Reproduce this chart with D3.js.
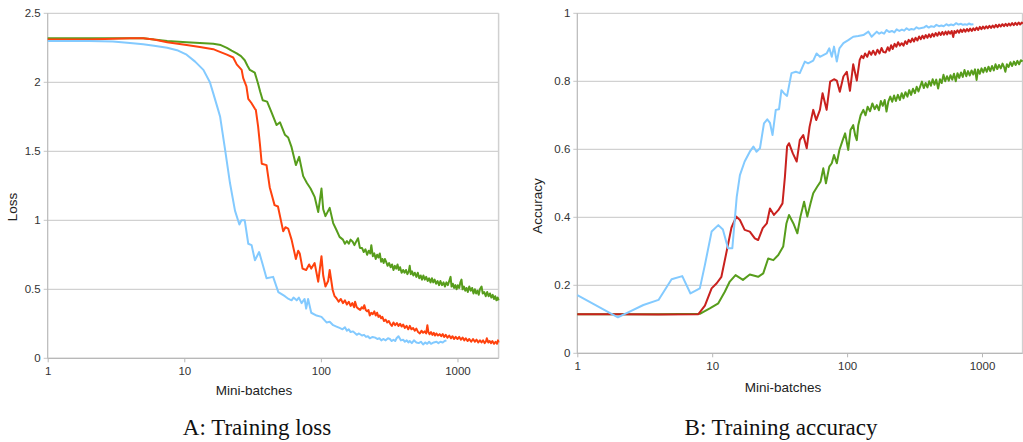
<!DOCTYPE html>
<html>
<head>
<meta charset="utf-8">
<script src="https://cdn.jsdelivr.net/npm/d3@7"></script>
<style>
  body { margin: 0; background: #fff; }
  .tick text { font-family: "Liberation Sans", Arial, sans-serif; font-size: 11.5px; fill: #333; }
  .axislabel { font-family: "Liberation Sans", Arial, sans-serif; font-size: 13.5px; fill: #222; }
  .caption { font-family: "Liberation Serif", "Times New Roman", serif; font-size: 23px; fill: #111; }
</style>
</head>
<body>
<div id="chart"></div>
<script>
// x ticks shared by both panels
var batchTicks = [1, 10, 100, 1000];
var lossTicks = [0, 0.5, 1, 1.5, 2, 2.5];
var accTicks = [0, 0.2, 0.4, 0.6, 0.8, 1];

// training loss, [mini-batch, loss]
var lossBlue = [[1,2.30],[2,2.30],[3,2.295],[4,2.285],[5,2.275],[6,2.265],[7.5,2.25],[9,2.23],[10.4,2.20],[12,2.15],[13.8,2.09],[15.4,2.00],[16.3,1.92],[17.7,1.80],[18.3,1.75],[19.9,1.51],[21.6,1.27],[23.5,1.07],[25.3,0.97],[26.2,1.00],[27.7,1.00],[29.4,0.83],[31.1,0.82],[32.9,0.71],[35.3,0.77],[37.5,0.68],[40,0.58],[44.7,0.59],[48.8,0.48],[54.5,0.45],[58,0.43],[61,0.42],[63,0.44],[66.5,0.42],[69,0.44],[72.2,0.40],[76,0.43],[78,0.36],[80.6,0.43],[85,0.33],[93,0.31],[101,0.30],[110,0.26],[116,0.265],[123,0.24],[130,0.23],[137,0.22],[144,0.21],[150,0.225],[155,0.20],[160,0.21],[165,0.19],[172,0.195],[183,0.17],[190,0.18],[200,0.165],[207,0.17],[214,0.155],[221,0.16],[228,0.145],[239,0.155],[250,0.15],[259,0.14],[268,0.145],[277,0.13],[286,0.14],[298,0.13],[310,0.145],[320,0.14],[330,0.125],[340,0.135],[350,0.125],[358,0.145],[370,0.16],[385,0.13],[400,0.135],[412,0.12],[425,0.13],[437,0.115],[447,0.125],[463,0.11],[480,0.13],[500,0.115],[520,0.11],[540,0.12],[560,0.10],[580,0.115],[600,0.105],[620,0.12],[640,0.105],[670,0.115],[702,0.12],[725,0.11],[750,0.12],[780,0.115],[805,0.125],[830,0.13]];
var lossOrange = [[1,2.31],[2,2.31],[3,2.315],[4,2.32],[5,2.32],[6,2.31],[7.5,2.29],[10.4,2.27],[13,2.255],[16.3,2.24],[17.3,2.23],[20.5,2.20],[22.8,2.18],[24.2,2.13],[26.3,2.09],[27,2.03],[28.5,1.97],[29.4,1.88],[31,1.85],[32.8,1.81],[33.4,1.80],[34.7,1.68],[35.8,1.55],[36.9,1.41],[40,1.40],[42.2,1.24],[45.8,1.11],[48.5,1.10],[53,0.92],[55,0.95],[57.6,0.94],[61,0.86],[65.6,0.72],[68.2,0.78],[70,0.76],[73.4,0.65],[78,0.64],[82,0.68],[85,0.65],[90,0.69],[95.6,0.555],[101,0.74],[104,0.60],[108,0.52],[113,0.56],[116,0.64],[122,0.495],[126,0.45],[130,0.435],[135,0.41],[140,0.43],[145,0.40],[150,0.42],[155,0.39],[160,0.41],[165,0.38],[170,0.40],[175,0.37],[178,0.41],[183,0.37],[188,0.36],[194,0.35],[199,0.37],[204,0.36],[208,0.385],[213,0.35],[218,0.34],[223,0.35],[228,0.31],[234,0.33],[240,0.32],[246,0.34],[252,0.31],[258,0.33],[264,0.30],[270,0.31],[276,0.29],[282,0.30],[290,0.27],[298,0.28],[306,0.26],[314,0.27],[322,0.25],[331,0.235],[340,0.26],[350,0.24],[360,0.255],[370,0.235],[380,0.25],[390,0.23],[400,0.245],[412,0.22],[424,0.235],[436,0.21],[448,0.235],[460,0.21],[473,0.22],[487,0.20],[500,0.215],[515,0.19],[530,0.18],[545,0.20],[560,0.185],[575,0.195],[590,0.18],[602,0.24],[612,0.19],[625,0.175],[640,0.19],[655,0.17],[670,0.185],[685,0.165],[700,0.18],[720,0.165],[740,0.175],[760,0.16],[780,0.175],[800,0.155],[820,0.17],[845,0.15],[870,0.165],[895,0.145],[920,0.16],[945,0.14],[970,0.155],[1000,0.14],[1030,0.155],[1060,0.135],[1090,0.15],[1120,0.13],[1150,0.145],[1185,0.125],[1220,0.14],[1260,0.12],[1300,0.14],[1340,0.12],[1380,0.135],[1420,0.115],[1460,0.13],[1500,0.115],[1540,0.13],[1580,0.11],[1620,0.125],[1640,0.145],[1680,0.115],[1720,0.125],[1760,0.11],[1800,0.125],[1850,0.105],[1900,0.12],[1950,0.105],[1980,0.13],[2000,0.115]];
var lossGreen = [[1,2.32],[2,2.32],[3,2.32],[4,2.32],[5,2.32],[6,2.31],[7.5,2.30],[10.4,2.29],[13,2.285],[16.3,2.28],[18.5,2.27],[20.5,2.25],[22.2,2.23],[24.2,2.21],[26,2.19],[27.7,2.16],[29,2.12],[30.2,2.09],[32.8,2.07],[34.7,1.99],[36,1.93],[37.5,1.87],[40.4,1.86],[43.6,1.78],[47.4,1.69],[50.2,1.71],[54.5,1.62],[57.6,1.60],[61,1.53],[65.6,1.40],[69.3,1.46],[74.2,1.32],[79,1.27],[84,1.23],[87,1.20],[90,1.17],[95.6,1.06],[101,1.23],[104,1.08],[108,1.03],[116,1.09],[123,0.98],[130,0.93],[137,0.88],[145,0.86],[150,0.83],[155,0.85],[160,0.83],[165,0.86],[171,0.845],[176,0.82],[180,0.84],[187,0.87],[193,0.80],[200,0.80],[206,0.77],[212,0.79],[218,0.75],[224,0.78],[230,0.76],[234,0.82],[240,0.74],[246,0.76],[252,0.72],[258,0.75],[264,0.73],[270,0.76],[276,0.70],[282,0.72],[288,0.69],[294,0.72],[300,0.70],[308,0.67],[316,0.69],[324,0.66],[332,0.68],[340,0.64],[348,0.67],[356,0.65],[364,0.68],[372,0.64],[380,0.66],[390,0.62],[400,0.64],[410,0.62],[420,0.64],[430,0.61],[440,0.63],[447,0.67],[455,0.61],[465,0.63],[475,0.60],[487,0.62],[500,0.59],[512,0.62],[525,0.58],[538,0.60],[550,0.57],[563,0.60],[577,0.57],[590,0.59],[605,0.56],[620,0.58],[635,0.55],[650,0.58],[665,0.55],[680,0.57],[697,0.54],[715,0.56],[733,0.53],[750,0.56],[770,0.53],[790,0.55],[810,0.52],[830,0.55],[850,0.53],[870,0.56],[890,0.59],[905,0.52],[925,0.54],[945,0.51],[965,0.53],[985,0.50],[1005,0.53],[1030,0.51],[1050,0.55],[1070,0.57],[1090,0.50],[1115,0.52],[1140,0.49],[1165,0.51],[1190,0.48],[1220,0.52],[1250,0.49],[1280,0.51],[1310,0.47],[1340,0.50],[1370,0.47],[1400,0.49],[1430,0.46],[1460,0.50],[1500,0.52],[1530,0.47],[1570,0.48],[1610,0.45],[1650,0.48],[1690,0.45],[1730,0.47],[1770,0.44],[1810,0.46],[1850,0.43],[1890,0.45],[1930,0.42],[1970,0.44],[2000,0.42]];

// training accuracy, [mini-batch, accuracy]
var accBlue = [[1,0.171],[2,0.106],[2.32,0.118],[3.09,0.142],[4,0.157],[5,0.218],[6,0.227],[6.9,0.176],[8.1,0.191],[8.83,0.26],[9.9,0.358],[11.1,0.377],[12,0.364],[13.1,0.309],[14.1,0.309],[15.2,0.46],[16.05,0.524],[17.4,0.564],[19,0.593],[20.2,0.608],[21.3,0.593],[22.6,0.603],[24.2,0.676],[25.6,0.688],[26.8,0.678],[28,0.642],[29.6,0.716],[31.3,0.718],[32.6,0.774],[34,0.765],[35.9,0.757],[38.7,0.824],[41.7,0.828],[44.6,0.824],[48.6,0.858],[51.4,0.853],[56.1,0.861],[59.4,0.882],[62.9,0.872],[66.6,0.877],[70.5,0.882],[73.8,0.897],[77,0.872],[80,0.902],[83.9,0.858],[87.7,0.897],[93.9,0.912],[102,0.921],[111,0.931],[121,0.933],[132,0.936],[144,0.946],[152,0.931],[166,0.946],[173,0.94],[180,0.944],[188,0.94],[196,0.951],[205,0.945],[215,0.948],[224,0.944],[233,0.953],[244,0.948],[255,0.952],[265,0.949],[276,0.956],[288,0.951],[300,0.954],[313,0.952],[327,0.959],[340,0.955],[355,0.957],[370,0.958],[387,0.963],[403,0.958],[420,0.962],[440,0.96],[459,0.966],[480,0.962],[500,0.964],[520,0.962],[544,0.968],[566,0.964],[590,0.967],[615,0.965],[644,0.971],[670,0.967],[700,0.969],[722,0.966],[747,0.968],[775,0.966],[800,0.970],[830,0.967],[864,0.968]];
var accRed = [[1,0.115],[2,0.115],[4,0.114],[7.9,0.115],[8.83,0.14],[9.9,0.191],[10.8,0.206],[11.7,0.225],[12.8,0.30],[13.9,0.37],[15.1,0.402],[16.05,0.392],[17.4,0.363],[19,0.358],[20.7,0.338],[21.9,0.333],[23.7,0.368],[25.4,0.382],[26.8,0.426],[28.7,0.407],[30.9,0.421],[33.2,0.441],[34.6,0.519],[35.9,0.608],[37.1,0.618],[39.6,0.588],[42.3,0.564],[44.6,0.627],[47.3,0.642],[50.2,0.603],[52.7,0.666],[56.1,0.716],[59,0.686],[62.9,0.716],[65.8,0.765],[70.5,0.716],[74.9,0.799],[80,0.806],[83.9,0.802],[88.3,0.769],[93.9,0.814],[99.5,0.828],[105,0.772],[111,0.850],[118,0.802],[124,0.863],[128,0.875],[132,0.868],[136,0.882],[141,0.872],[146,0.888],[151,0.878],[156,0.89],[162,0.878],[168,0.893],[174,0.882],[180,0.898],[186,0.886],[193,0.885],[200,0.90],[206,0.89],[212,0.906],[218,0.895],[225,0.91],[232,0.902],[239,0.915],[246,0.905],[254,0.912],[262,0.905],[270,0.918],[278,0.91],[286,0.922],[295,0.915],[304,0.926],[313,0.917],[322,0.928],[332,0.92],[342,0.932],[352,0.924],[362,0.934],[372,0.926],[383,0.936],[394,0.928],[405,0.938],[417,0.93],[429,0.94],[441,0.932],[454,0.942],[467,0.934],[480,0.944],[494,0.936],[508,0.945],[522,0.937],[537,0.946],[552,0.938],[564,0.947],[580,0.94],[596,0.948],[612,0.93],[625,0.948],[640,0.942],[658,0.95],[676,0.943],[694,0.952],[713,0.945],[733,0.953],[753,0.946],[774,0.954],[795,0.947],[817,0.955],[840,0.948],[863,0.956],[887,0.95],[912,0.958],[937,0.951],[963,0.96],[990,0.953],[1017,0.961],[1045,0.955],[1074,0.962],[1104,0.956],[1135,0.963],[1167,0.957],[1200,0.964],[1234,0.958],[1268,0.966],[1304,0.959],[1340,0.967],[1378,0.961],[1416,0.968],[1456,0.962],[1497,0.969],[1539,0.963],[1582,0.97],[1626,0.964],[1672,0.971],[1719,0.965],[1767,0.972],[1817,0.966],[1868,0.973],[1920,0.967],[1970,0.973],[2000,0.969]];
var accGreen = [[1,0.115],[2,0.115],[4,0.115],[8.1,0.116],[9.6,0.132],[11.1,0.147],[12.4,0.181],[13.5,0.211],[14.9,0.23],[16.9,0.216],[19,0.232],[21.9,0.225],[23.9,0.235],[26,0.279],[28.4,0.274],[30.9,0.289],[33.6,0.314],[35.5,0.382],[37.1,0.407],[40,0.382],[42.8,0.353],[45.1,0.402],[48,0.446],[50.7,0.402],[53.6,0.441],[56.1,0.471],[60,0.49],[63.6,0.505],[66.6,0.544],[69.7,0.5],[73.8,0.549],[77,0.559],[80,0.583],[83.9,0.559],[87.7,0.598],[92.8,0.627],[96.7,0.647],[102,0.598],[106,0.657],[111,0.671],[115,0.64],[118,0.627],[121,0.671],[126,0.70],[132,0.716],[137,0.70],[142,0.725],[148,0.712],[154,0.735],[160,0.718],[166,0.73],[172,0.715],[178,0.742],[184,0.728],[190,0.745],[196,0.711],[202,0.74],[209,0.755],[216,0.74],[223,0.758],[230,0.742],[238,0.76],[246,0.745],[254,0.765],[262,0.75],[271,0.768],[280,0.755],[289,0.774],[298,0.76],[308,0.778],[318,0.765],[328,0.784],[338,0.77],[349,0.786],[359,0.799],[370,0.78],[382,0.795],[394,0.782],[406,0.8],[418,0.787],[431,0.806],[444,0.79],[458,0.805],[473,0.779],[488,0.806],[503,0.795],[518,0.819],[534,0.80],[550,0.815],[567,0.802],[584,0.818],[602,0.805],[620,0.822],[639,0.80],[658,0.824],[678,0.81],[699,0.826],[720,0.813],[742,0.833],[765,0.815],[788,0.83],[812,0.817],[837,0.832],[862,0.82],[888,0.835],[912,0.804],[935,0.835],[963,0.822],[992,0.838],[1022,0.826],[1053,0.84],[1085,0.828],[1118,0.843],[1152,0.83],[1187,0.845],[1223,0.832],[1260,0.85],[1298,0.836],[1337,0.848],[1378,0.838],[1420,0.852],[1463,0.84],[1490,0.828],[1530,0.85],[1576,0.842],[1624,0.856],[1673,0.845],[1724,0.858],[1776,0.848],[1830,0.86],[1885,0.85],[1942,0.862],[2000,0.858]];

var svg = d3.select("#chart").append("svg")
  .attr("width", 1023)
  .attr("height", 442);

function drawPanel(p) {
  var g = svg.append("g").attr("transform", `translate(${p.left}, ${p.top})`);
  var w = p.width, h = p.height;

  var x = d3.scaleLog().domain([1, 2000]).range([0, w]);
  var y = d3.scaleLinear().domain([0, p.yMax]).range([h, 0]);

  // horizontal grid lines, incl. small outer tick
  g.selectAll("line.grid")
    .data(p.yTicks)
    .enter()
    .append("line")
    .attr("class", "grid")
    .attr("x1", -4).attr("x2", w)
    .attr("y1", d => y(d)).attr("y2", d => y(d))
    .style("stroke", "#c6c6c6")
    .style("stroke-width", 1);

  // right border
  g.append("line")
    .attr("x1", w).attr("x2", w).attr("y1", 0).attr("y2", h)
    .style("stroke", "#d0d0d0").style("stroke-width", 1.5);

  var yAxis = d3.axisLeft(y).tickValues(p.yTicks).tickSize(0).tickPadding(7)
    .tickFormat(d => d3.format("~g")(d));
  g.append("g").call(yAxis).call(a => a.select(".domain").remove());

  var xAxis = d3.axisBottom(x).tickValues(batchTicks).tickSize(4).tickPadding(5)
    .tickFormat(d3.format("d"));
  var xa = g.append("g").attr("transform", `translate(0, ${h})`).call(xAxis);
  xa.select(".domain").remove();
  xa.selectAll(".tick line").style("stroke", "#b8b8b8");

  // axis lines
  g.append("line").attr("x1", 0).attr("x2", w).attr("y1", h).attr("y2", h)
    .style("stroke", "#b8b8b8").style("stroke-width", 1.2);
  g.append("line").attr("x1", 0).attr("x2", 0).attr("y1", 0).attr("y2", h)
    .style("stroke", "#b8b8b8").style("stroke-width", 1.2);

  var line = d3.line().x(d => x(d[0])).y(d => y(d[1]));
  p.series.forEach(s => {
    g.append("path")
      .datum(s.data)
      .attr("d", line)
      .style("fill", "none")
      .style("stroke", s.colour)
      .style("stroke-width", 2)
      .style("stroke-linejoin", "round");
  });

  svg.append("text").attr("class", "axislabel")
    .attr("x", p.xLabelX).attr("y", p.xLabelY)
    .style("text-anchor", "middle")
    .text("Mini-batches");

  svg.append("text").attr("class", "axislabel")
    .attr("transform", `translate(${p.yLabelX}, ${p.yLabelY}) rotate(-90)`)
    .style("text-anchor", "middle")
    .text(p.yLabel);

  svg.append("text").attr("class", "caption")
    .attr("x", p.captionX).attr("y", 435)
    .style("text-anchor", "middle")
    .text(p.caption);
}

drawPanel({
  left: 47.7, top: 13.3, width: 450.9, height: 345,
  yMax: 2.5, yTicks: lossTicks, yLabel: "Loss",
  yLabelX: 17, yLabelY: 207, xLabelX: 254, xLabelY: 395,
  caption: "A: Training loss", captionX: 257,
  series: [
    {data: lossGreen, colour: "#579d1c"},
    {data: lossOrange, colour: "#ff420e"},
    {data: lossBlue, colour: "#83caff"}
  ]
});

drawPanel({
  left: 577.3, top: 13.3, width: 445.3, height: 340,
  yMax: 1, yTicks: accTicks, yLabel: "Accuracy",
  yLabelX: 542, yLabelY: 206, xLabelX: 783, xLabelY: 392,
  caption: "B: Training accuracy", captionX: 781,
  series: [
    {data: accGreen, colour: "#579d1c"},
    {data: accRed, colour: "#c9211e"},
    {data: accBlue, colour: "#83caff"}
  ]
});
</script>
</body>
</html>
